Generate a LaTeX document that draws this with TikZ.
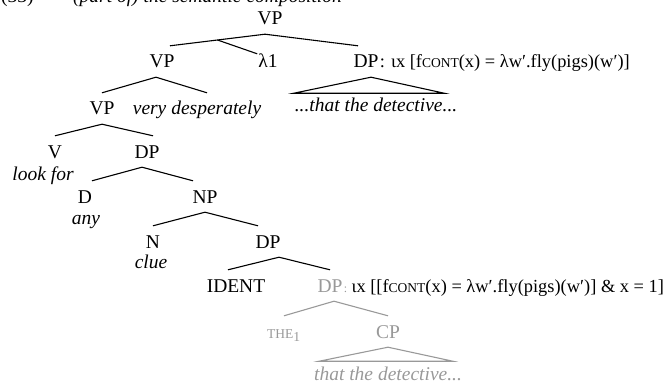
\documentclass[tikz,border=0pt]{standalone}
\usepackage{fontspec}
\setmainfont{Liberation Serif}
\usetikzlibrary{positioning,calc}

\definecolor{faded}{gray}{0.6}
\newcommand{\smc}[1]{{\fontsize{13.5}{14}\selectfont #1}}

\begin{document}
\begin{tikzpicture}[x=1pt,y=-1pt,
  nd/.style={font=\fontsize{19.5}{22}\selectfont, text height=13pt,
             text depth=0pt, inner xsep=1pt, inner ysep=9pt, anchor=base,
             text=#1},
  nd/.default=black,
  ndi/.style={nd, font=\fontsize{19.5}{22}\selectfont\itshape},
  sem/.style={nd, font=\fontsize{18.4}{22}\selectfont, anchor=base west,
              inner xsep=0pt},
  lf/.style={font=\fontsize{19.5}{22}\selectfont\itshape, inner sep=1pt,
             anchor=base, text=#1},
  lf/.default=black,
  br/.style={line width=1.1pt, draw=#1},
  br/.default=black,
]
\useasboundingbox (0,0) rectangle (664,385);
\clip (0,0) rectangle (664,385);

% caption, cut off at the top
\node[lf, anchor=base west, font=\fontsize{19.5}{22}\selectfont] (num) at (0,2.5) {(33)};
\node[lf, anchor=base west] (hdr) at (72,2.5) {(part of) the semantic composition};

% upper part
\node[nd] (vpa) at (270,25) {VP};
\node[nd] (vpb) at (162,68) {VP};
\node[nd] (lam) at (268,68) {λ1};
\node[nd] (dpa) at (366,68) {DP};
\node[sem] (dpa-sem) at (dpa.base east)
  {: ιx [f\smc{CONT}(x) = λw′.fly(pigs)(w′)]};
\node[lf, inner ysep=5pt] (dpa-tri) at (376,112) {...that the detective...};

\node[nd] (vpc) at (102,115) {VP};
\node[ndi] (adv) at (197,115) {very desperately};
\node[nd] (v) at (55,158) {V};
\node[lf] (v-lex) at (43,180) {look for};
\node[nd] (dpb) at (147,158) {DP};
\node[nd] (d) at (85,203) {D};
\node[lf] (d-lex) at (86,224) {any};
\node[nd] (np) at (205,203) {NP};
\node[nd] (n) at (153,248) {N};
\node[lf] (n-lex) at (151,268) {clue};
\node[nd] (dpc) at (268,248) {DP};
\node[nd] (ident) at (236,292) {IDENT};

% faded part
\node[nd=faded] (dpd) at (330,292) {DP};
\node[nd=faded, anchor=base west, inner xsep=0pt] (dpd-colon) at (dpd.base east)
  {\fontsize{12}{12}\selectfont :};
\node[sem, xshift=4pt] (dpd-sem) at (dpd-colon.base east)
  {ιx [[f\smc{CONT}(x) = λw′.fly(pigs)(w′)] \& x = 1]};
\node[nd=faded] (the) at (284,338) {\smc{THE}\textsubscript{1}};
\node[nd=faded] (cp) at (388,338) {CP};
\node[lf=faded, inner ysep=5pt] (cp-tri) at (388,380) {that the detective...};

% branches
\draw[br] ([xshift=-5pt]vpa.south) -- ([xshift=8pt]vpb.north);
\draw[br] ([xshift=-5pt]vpa.south) -- ([xshift=-8pt]dpa.north);
\coordinate (vpa-mid) at ($([xshift=-5pt]vpa.south)!.5!([xshift=8pt]vpb.north)$);
\draw[br] (vpa-mid) -- ([yshift=-8pt]lam.north west);
\draw[br] ([xshift=5pt]dpa.south) -- (dpa-tri.north west)
  -- ([xshift=-14pt]dpa-tri.north east) -- cycle;

\draw[br] ([xshift=-6pt]vpb.south) -- (vpc.north);
\draw[br] ([xshift=-6pt]vpb.south) -- ([xshift=10pt]adv.north);
\draw[br] (vpc.south) -- (v.north);
\draw[br] (vpc.south) -- ([xshift=6pt]dpb.north);
\draw[br] ([xshift=-5pt]dpb.south) -- ([xshift=7pt]d.north);
\draw[br] ([xshift=-5pt]dpb.south) -- ([xshift=-12pt]np.north);
\draw[br] (np.south) -- (n.north);
\draw[br] (np.south) -- ([xshift=-10pt]dpc.north);
\draw[br] ([xshift=11pt]dpc.south) -- ([xshift=-8pt]ident.north);
\draw[br] ([xshift=11pt]dpc.south) -- (dpd.north);

\draw[br=faded] ([xshift=4pt]dpd.south) -- (the.north);
\draw[br=faded] ([xshift=4pt]dpd.south) -- (cp.north);
\draw[br=faded] (cp.south) -- ([xshift=6pt]cp-tri.north west)
  -- ([xshift=-10pt]cp-tri.north east) -- cycle;
\end{tikzpicture}
\end{document}
